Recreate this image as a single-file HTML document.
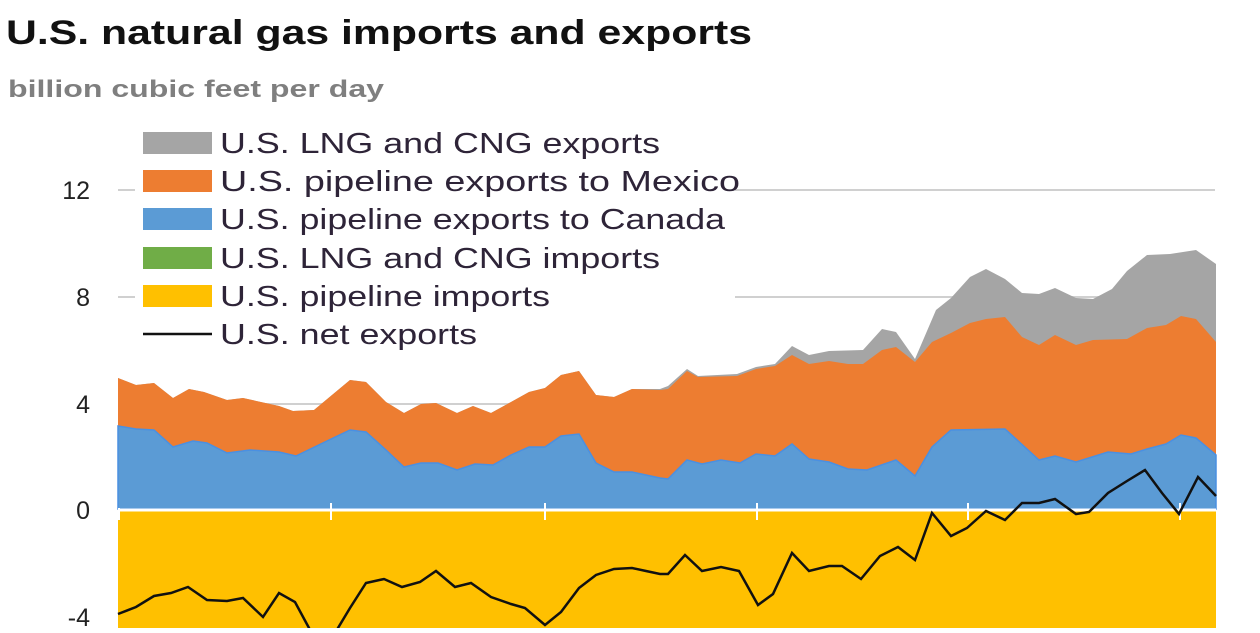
<!DOCTYPE html>
<html><head><meta charset="utf-8"><style>
body{margin:0;background:#fff;width:1260px;height:628px;overflow:hidden;font-family:"Liberation Sans",Arial,sans-serif}
</style></head><body>
<svg width="1260" height="628" viewBox="0 0 1260 628" xmlns="http://www.w3.org/2000/svg" font-family="Liberation Sans, Arial, sans-serif">
<text x="6" y="44" font-size="34" font-weight="bold" fill="#111" textLength="746" lengthAdjust="spacingAndGlyphs">U.S. natural gas imports and exports</text>
<text x="8" y="97" font-size="24" font-weight="bold" fill="#7f7f7f" textLength="376" lengthAdjust="spacingAndGlyphs">billion cubic feet per day</text>
<g stroke="#d0d0d0" stroke-width="2">
<line x1="118" y1="190" x2="1215" y2="190"/><line x1="118" y1="297" x2="1215" y2="297"/><line x1="118" y1="404" x2="1215" y2="404"/>
</g>
<g font-size="25" fill="#222" text-anchor="end">
<text x="90" y="199">12</text><text x="90" y="306">8</text><text x="90" y="413">4</text><text x="90" y="519">0</text><text x="90" y="626">-4</text>
</g>
<rect x="118" y="509" width="1098" height="119" fill="#ffc000"/>
<polygon fill="#a5a5a5" points="118,509 118,378 136,385 154,383 173,398 189,389 204,392 227,400 243,398 279,406 293,411 314,410 350,380 366,382 386,402 404,413 421,404 436,403 457,413 473,406 491,413 511,402 529,392 545,388 561,375 579,371 596,395 614,397 632,389 660,389 668,386 687,369 698,376 737,374 756,367 775,364 792,346 809,355 829,351 863,350 882,329 896,332 915,359 936,310 951,298 970,277 986,269 1005,279 1022,293 1039,294 1055,288 1076,298 1093,299 1112,289 1127,271 1147,255 1170,254 1196,250 1216,264 1216,509"/>
<polygon fill="#ed7d31" points="118,509 118,378 136,385 154,383 173,398 189,389 204,392 227,400 243,398 279,406 293,411 314,410 350,380 366,382 386,402 404,413 421,404 436,403 457,413 473,406 491,413 511,402 529,392 545,388 561,375 579,371 596,395 614,397 632,389 660,390 668,389 687,371 698,377 737,376 756,369 775,366 792,355 809,364 829,361 848,364 863,364 882,350 896,347 915,362 932,342 951,333 970,323 986,319 1005,317 1022,337 1039,345 1055,335 1076,345 1093,340 1127,339 1147,328 1166,325 1181,316 1196,319 1216,342 1216,509"/>
<polygon fill="#5b9bd5" stroke="#4a90e2" stroke-width="1.5" points="118,509 118,426 136,429 154,430 173,447 193,441 207,443 227,453 250,450 279,452 296,456 329,440 350,430 366,432 386,450 404,467 421,463 438,463 457,470 475,464 493,465 511,455 529,447 545,447 561,436 579,434 596,463 614,472 632,472 646,475 660,478 668,479 687,460 702,464 721,460 740,463 756,454 775,456 792,444 809,459 829,462 848,469 867,470 896,460 915,476 932,447 951,430 1005,429 1039,460 1055,456 1076,462 1108,452 1131,454 1147,449 1166,444 1181,435 1196,438 1216,455 1216,509"/>
<line x1="118" y1="510" x2="1216" y2="510" stroke="#fff" stroke-width="3"/>
<g stroke="#fff" stroke-width="2"><line x1="119" y1="508" x2="119" y2="520"/><line x1="331" y1="503" x2="331" y2="520"/><line x1="545" y1="503" x2="545" y2="520"/><line x1="757" y1="503" x2="757" y2="520"/><line x1="968" y1="503" x2="968" y2="520"/><line x1="1180" y1="503" x2="1180" y2="520"/></g>
<polyline fill="none" stroke="#111" stroke-width="2.5" points="118,614 136,607 154,596 171,593 188,587 207,600 227,601 243,598 263,617 279,593 295,602 309,628 315,640 332,640 338,628 350,608 366,583 384,579 402,587 420,582 436,571 455,587 471,583 491,597 511,604 525,608 545,625 561,612 579,588 596,575 614,569 632,568 646,571 660,574 668,574 685,555 702,571 721,567 739,571 758,605 773,594 792,553 809,571 829,566 842,566 861,579 880,556 898,547 915,560 932,513 951,536 967,528 986,511 1005,520 1022,503 1039,503 1055,499 1076,514 1089,512 1108,493 1127,481 1145,470 1162,493 1179,514 1198,477 1216,496"/>
<rect x="135" y="120" width="600" height="230" fill="#fff"/>
<rect x="143" y="132" width="69" height="22" fill="#a5a5a5"/>
<rect x="143" y="170" width="69" height="22" fill="#ed7d31"/>
<rect x="143" y="208" width="69" height="22" fill="#5b9bd5"/>
<rect x="143" y="247" width="69" height="22" fill="#70ad47"/>
<rect x="143" y="285" width="69" height="22" fill="#ffc000"/>
<line x1="143" y1="334" x2="212" y2="334" stroke="#111" stroke-width="2.5"/>
<g font-size="29" fill="#2e2438">
<text x="220" y="153" textLength="440" lengthAdjust="spacingAndGlyphs">U.S. LNG and CNG exports</text>
<text x="220" y="191" textLength="520" lengthAdjust="spacingAndGlyphs">U.S. pipeline exports to Mexico</text>
<text x="220" y="229" textLength="505" lengthAdjust="spacingAndGlyphs">U.S. pipeline exports to Canada</text>
<text x="220" y="268" textLength="440" lengthAdjust="spacingAndGlyphs">U.S. LNG and CNG imports</text>
<text x="220" y="306" textLength="330" lengthAdjust="spacingAndGlyphs">U.S. pipeline imports</text>
<text x="220" y="344" textLength="257" lengthAdjust="spacingAndGlyphs">U.S. net exports</text>
</g>
<line x1="742" y1="190" x2="1215" y2="190" stroke="#d0d0d0" stroke-width="2"/>
<line x1="735" y1="297" x2="936" y2="297" stroke="#d0d0d0" stroke-width="2"/>
</svg>
</body></html>
